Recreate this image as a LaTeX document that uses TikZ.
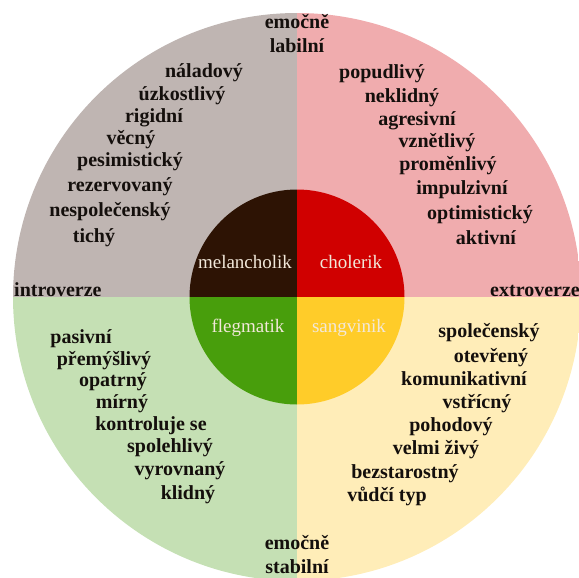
\documentclass[tikz,border=0pt]{standalone}
\usepackage{fontspec}
\setmainfont{Liberation Serif}
\definecolor{qgrey}{RGB}{191,181,178}
\definecolor{qpink}{RGB}{240,172,174}
\definecolor{qgreen}{RGB}{197,224,180}
\definecolor{qyellow}{RGB}{255,237,184}
\definecolor{cbrown}{RGB}{45,19,4}
\definecolor{cred}{RGB}{208,0,0}
\definecolor{cgreen}{RGB}{72,158,12}
\definecolor{cyellow}{RGB}{255,204,41}
\definecolor{ctext}{RGB}{242,232,218}
\definecolor{wtext}{RGB}{20,15,12}
\tikzset{
  word/.style={font=\fontsize{20}{24}\selectfont\bfseries, text=wtext, inner sep=0pt, anchor=mid, align=center},
  temper/.style={font=\fontsize{19}{22}\selectfont, text=ctext, inner sep=0pt, anchor=mid}
}
\begin{document}
\begin{tikzpicture}[x=1pt,y=-1pt]
\useasboundingbox (0,0) rectangle (579,578);
\coordinate (C) at (297,297);
\begin{scope}
  \clip (C) circle[radius=284pt];
  \fill[qgrey] (0,0) rectangle (C);
  \fill[qpink] (297,0) rectangle (600,297);
  \fill[qgreen] (0,297) rectangle (297,600);
  \fill[qyellow] (C) rectangle (600,600);
\end{scope}
\begin{scope}
  \clip (C) circle[radius=107.5pt];
  \fill[cbrown] (0,0) rectangle (C);
  \fill[cred] (297,0) rectangle (600,297);
  \fill[cgreen] (0,297) rectangle (297,600);
  \fill[cyellow] (C) rectangle (600,600);
\end{scope}
% temperaments
\node[temper] (mel) at (245,266) {melancholik};
\node[temper] (chol) at (351,266) {cholerik};
\node[temper] (fleg) at (248,330) {flegmatik};
\node[temper] (sang) at (349,330) {sangvinik};
% axes
\node[word, anchor=north] (labil) at (297,14) {emočně\\labilní};
\node[word, anchor=north] (stabil) at (297,535) {emočně\\stabilní};
\node[word, anchor=mid west] (intro) at (14,294) {introverze};
\node[word, anchor=mid east] (extro) at (580,294) {extroverze};
% melancholik words
\node[word] (m1) at (204,75) {náladový};
\node[word] (m2) at (182,98) {úzkostlivý};
\node[word] (m3) at (154,120) {rigidní};
\node[word] (m4) at (131,142) {věcný};
\node[word] (m5) at (130,164) {pesimistický};
\node[word] (m6) at (120,189) {rezervovaný};
\node[word] (m7) at (110,214) {nespolečenský};
\node[word] (m8) at (94,240) {tichý};
% cholerik words
\node[word] (c1) at (382,76) {popudlivý};
\node[word] (c2) at (402,100) {neklidný};
\node[word] (c3) at (417,123) {agresivní};
\node[word] (c4) at (437,145) {vznětlivý};
\node[word] (c5) at (448,168) {proměnlivý};
\node[word] (c6) at (462,192) {impulzivní};
\node[word] (c7) at (480,217) {optimistický};
\node[word] (c8) at (486,242) {aktivní};
% flegmatik words
\node[word] (f1) at (81,341) {pasivní};
\node[word] (f2) at (104,363) {přemýšlivý};
\node[word] (f3) at (113,384) {opatrný};
\node[word] (f4) at (122,406) {mírný};
\node[word] (f5) at (151,428) {kontroluje se};
\node[word] (f6) at (170,450) {spolehlivý};
\node[word] (f7) at (180,473) {vyrovnaný};
\node[word] (f8) at (188,497) {klidný};
% sangvinik words
\node[word] (s1) at (489,335) {společenský};
\node[word] (s2) at (491,360) {otevřený};
\node[word] (s3) at (464,383) {komunikativní};
\node[word] (s4) at (477,406) {vstřícný};
\node[word] (s5) at (451,429) {pohodový};
\node[word] (s6) at (436,452) {velmi živý};
\node[word] (s7) at (405,476) {bezstarostný};
\node[word] (s8) at (387,499) {vůdčí typ};
\end{tikzpicture}
\end{document}
